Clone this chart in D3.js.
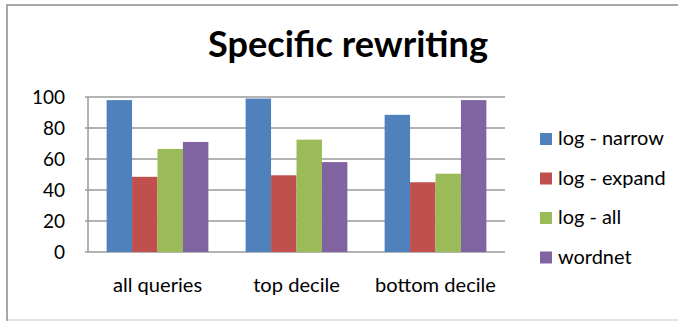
<!DOCTYPE html>
<html>
<head>
<meta charset="utf-8">
<script src="https://cdn.jsdelivr.net/npm/d3@7"></script>
<style>
  body { margin: 0; background: #fff; }
  text { font-family: Lato, "Open Sans", sans-serif; fill: #000; }
</style>
</head>
<body>
<script>
const categories = ['all queries', 'top decile', 'bottom decile'];
const seriesNames = ['log - narrow', 'log - expand', 'log - all', 'wordnet'];
const logNarrow = [98, 99, 88.5];
const logExpand = [48.5, 49.5, 45];
const logAll = [66.5, 72.5, 50.5];
const wordnet = [71, 58, 98];
const yTicks = [0, 20, 40, 60, 80, 100];
const colors = ['#4F81BD', '#C0504D', '#9BBB59', '#8064A2'];

const seriesValues = [logNarrow, logExpand, logAll, wordnet];

const W = 678, H = 322;
const margin = { top: 97, left: 88, right: 173, bottom: 70 };
const width = W - margin.left - margin.right;
const height = H - margin.top - margin.bottom;

const svg = d3.select('body')
  .append('svg')
  .attr('width', W)
  .attr('height', H);

// scale a text node's font so it spans the width it has in the picture
function fitWidth(sel, base, target) {
  const w = sel.node().getComputedTextLength();
  return base * target / w;
}

// outer frame
svg.append('rect')
  .attr('x', 7).attr('y', 5)
  .attr('width', W + 10).attr('height', 315)
  .attr('fill', 'none')
  .attr('stroke', '#8c8c8c')
  .attr('stroke-width', 1.5);
svg.append('line')
  .attr('x1', 8).attr('x2', W).attr('y1', 320).attr('y2', 320)
  .attr('stroke', '#e2e2e2').attr('stroke-width', 2);

const title = svg.append('text')
  .attr('x', 348)
  .attr('y', 57)
  .attr('text-anchor', 'middle')
  .style('font-weight', 'bold')
  .style('font-size', '30px')
  .text('Specific rewriting');
title.style('font-size', fitWidth(title, 30, 280) + 'px');

const g = svg.append('g')
  .attr('transform', `translate(${margin.left},${margin.top})`);

const x0 = d3.scaleBand()
  .domain(categories)
  .range([0, width])
  .paddingInner(0.268)
  .paddingOuter(0.134);

const x1 = d3.scaleBand()
  .domain(d3.range(seriesNames.length))
  .range([0, x0.bandwidth()]);

const y = d3.scaleLinear()
  .domain([0, 100])
  .range([height, 0]);

// gridlines
g.append('g')
  .selectAll('line')
  .data(yTicks)
  .enter()
  .append('line')
  .attr('x1', -3)
  .attr('x2', width)
  .attr('y1', d => y(d))
  .attr('y2', d => y(d))
  .attr('stroke', '#9a9a9a')
  .attr('stroke-width', 1.5);

g.append('line')
  .attr('x1', 0).attr('x2', 0)
  .attr('y1', 0).attr('y2', height)
  .attr('stroke', '#9a9a9a')
  .attr('stroke-width', 1.5);

const yAxis = g.append('g')
  .call(d3.axisLeft(y).tickValues(yTicks).tickSize(0).tickPadding(23));
yAxis.select('.domain').remove();
yAxis.selectAll('text')
  .style('font-size', '19px')
  .attr('fill', '#000');

const xAxis = g.append('g')
  .attr('transform', `translate(0,${height})`)
  .call(d3.axisBottom(x0).tickSize(0).tickPadding(26));
xAxis.select('.domain').remove();
const xLabels = xAxis.selectAll('text').attr('fill', '#000').style('font-size', '17px');
const xSize = fitWidth(xLabels.filter(d => d === 'bottom decile'), 17, 121);
xLabels.style('font-size', xSize + 'px');

// bars
const groups = g.selectAll('.group')
  .data(categories)
  .enter()
  .append('g')
  .attr('class', 'group')
  .attr('transform', d => `translate(${x0(d)},0)`);

groups.selectAll('rect')
  .data((c, ci) => seriesValues.map((vals, si) => ({ si, v: vals[ci] })))
  .enter()
  .append('rect')
  .attr('x', d => x1(d.si))
  .attr('y', d => y(d.v))
  .attr('width', x1.bandwidth())
  .attr('height', d => height - y(d.v))
  .attr('fill', d => colors[d.si]);

// legend
const legend = svg.append('g')
  .attr('transform', 'translate(540,139)');

const items = legend.selectAll('.item')
  .data(seriesNames)
  .enter()
  .append('g')
  .attr('class', 'item')
  .attr('transform', (d, i) => `translate(0,${i * 39.5})`);

items.append('rect')
  .attr('x', 0).attr('y', -6)
  .attr('width', 12).attr('height', 12)
  .attr('fill', (d, i) => colors[i]);

const legendText = items.append('text')
  .attr('x', 18)
  .attr('y', 6)
  .style('font-size', '17px')
  .text(d => d);
const lSize = fitWidth(legendText.filter(d => d === 'log - narrow'), 17, 106);
legendText.style('font-size', lSize + 'px');
</script>
</body>
</html>
